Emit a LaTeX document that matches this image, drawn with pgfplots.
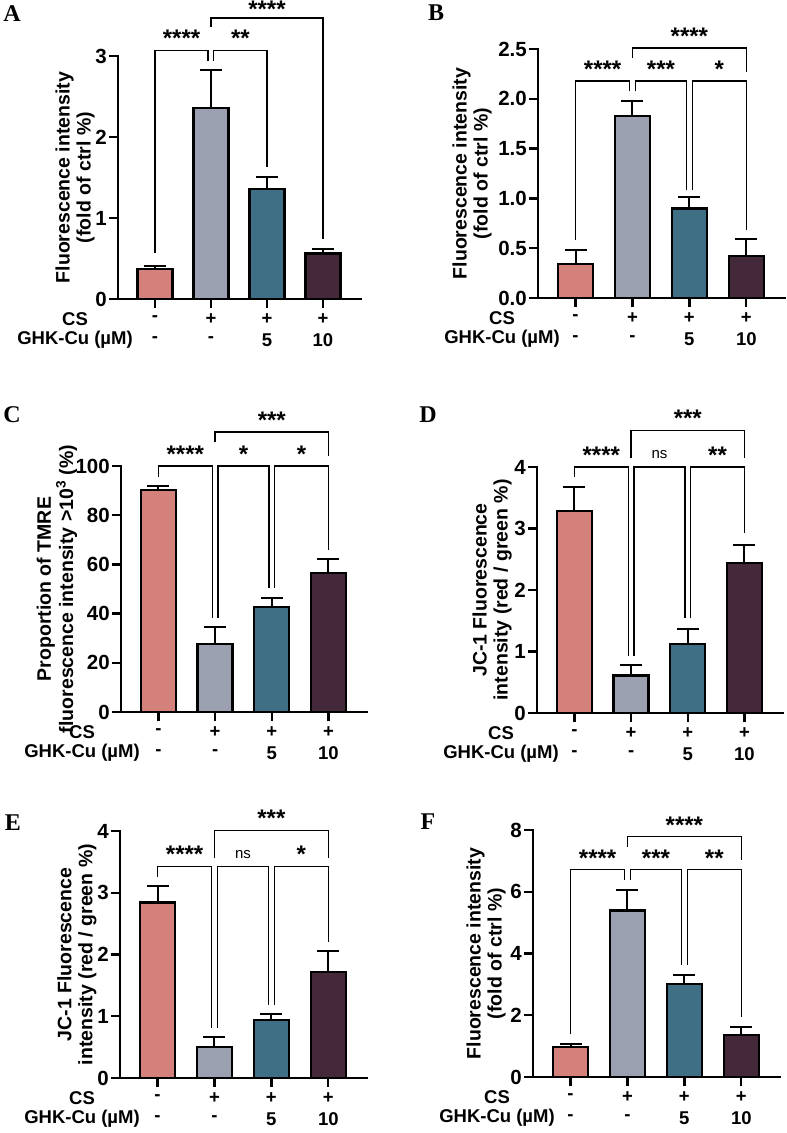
\documentclass[border=0pt]{standalone}
\usepackage{pgfplots}
\pgfplotsset{compat=1.18}
\usepackage{fontspec}
\setmainfont{Liberation Sans}
\newfontfamily\serifbf{Liberation Serif}
\definecolor{cA}{RGB}{212,128,123}
\definecolor{cB}{RGB}{154,160,176}
\definecolor{cC}{RGB}{63,111,133}
\definecolor{cD}{RGB}{67,41,58}
\pgfplotsset{
  gp/.style={
    scale only axis, clip=false,
    axis x line*=bottom, axis y line*=left,
    axis line style={-, line width=2.3pt, line cap=rect},
    ybar, bar width=35pt,
    xmin=-0.66, xmax=3.68, ymin=0,
    xtick={0,1,2,3}, xticklabels={},
    tick align=outside, major tick length=9pt,
    tick style={line width=2.3pt, black},
    minor tick num=0, scaled y ticks=false,
    /pgf/number format/assume math mode=true,
    yticklabel style={font=\bfseries\fontsize{20.5}{22}\selectfont, inner sep=2pt},
    anchor=south west,
  },
  gbar/.style={bar shift=0pt, fill=#1, draw=black, line width=2.3pt,
    error bars/.cd, y dir=plus, y explicit,
    error bar style={line width=2pt, black},
    error mark options={rotate=90, black, line width=2pt, mark size=11pt}},
}
\tikzset{
  rl/.style={font=\bfseries\fontsize{18.5}{20}\selectfont, inner sep=0pt, anchor=center},
  yl/.style={font=\bfseries\fontsize{19.5}{21}\selectfont, rotate=90, align=center, inner sep=0pt},
  bk/.style={line width=1.3pt, black},
  st/.style={font=\bfseries\fontsize{24}{24}\selectfont, inner sep=0pt},
  ns/.style={font=\fontsize{15}{15}\selectfont, inner sep=0pt},
  lt/.style={font=\serifbf\bfseries\fontsize{24}{24}\selectfont, inner sep=0pt},
}
% bracket: x1 y1 x2 y2 yh xtext text style
\newcommand{\br}[8]{%
  \draw[bk] (axis cs:#1,#2) -- (axis cs:#1,#5) -- (axis cs:#3,#5) -- (axis cs:#3,#4);
  \node[#8] at ([yshift=12pt]axis cs:#6,#5) {#7};}
\newcommand{\rows}[1]{%
  \node[rl] at ([yshift=-20pt]axis cs:0,0) {-};
  \node[rl] at ([yshift=-20pt]axis cs:1,0) {+};
  \node[rl] at ([yshift=-20pt]axis cs:2,0) {+};
  \node[rl] at ([yshift=-20pt]axis cs:3,0) {+};
  \node[rl] at ([yshift=-41pt]axis cs:0,0) {-};
  \node[rl] at ([yshift=-41pt]axis cs:1,0) {-};
  \node[rl] at ([yshift=-41pt]axis cs:2,0) {5};
  \node[rl] at ([yshift=-41pt]axis cs:3,0) {10};
  \node[rl] at ([xshift=#1, yshift=-20pt]rel axis cs:0,0) {CS};
  \node[rl] at ([xshift=#1, yshift=-41pt]rel axis cs:0,0) {GHK-Cu (µM)};}
\begin{document}
\begin{tikzpicture}
\useasboundingbox (0,0) rectangle (787pt,-1133pt);
% ---------------- A
\begin{axis}[gp, at={(118pt,-299pt)}, width=243pt, height=243pt, ymax=3, ytick={0,1,2,3}]
\addplot[gbar=cA] coordinates {(0,0.37) +- (0,0.04)};
\addplot[gbar=cB] coordinates {(1,2.36) +- (0,0.47)};
\addplot[gbar=cC] coordinates {(2,1.36) +- (0,0.15)};
\addplot[gbar=cD] coordinates {(3,0.56) +- (0,0.06)};
\br{0}{0.57}{0.95}{2.94}{3.07}{0.475}{****}{st}
\br{1.05}{2.94}{2}{1.63}{3.07}{1.525}{**}{st}
\draw[bk] (axis cs:1,3.36) -- (axis cs:1,3.47) -- (axis cs:3,3.47) -- (axis cs:3,0.74);
\node[st] at ([yshift=8.5pt]axis cs:2,3.47) {****};
\node[yl] at ([xshift=-43pt]rel axis cs:0,0.5) {Fluorescence intensity\\(fold of ctrl \%)};
\rows{-43pt}
\end{axis}
% ---------------- B
\begin{axis}[gp, at={(538pt,-298pt)}, width=247pt, height=249pt, ymax=2.5, ytick={0,0.5,1,1.5,2,2.5},
  yticklabel style={/pgf/number format/fixed, /pgf/number format/fixed zerofill, /pgf/number format/precision=1}]
\addplot[gbar=cA] coordinates {(0,0.34) +- (0,0.14)};
\addplot[gbar=cB] coordinates {(1,1.83) +- (0,0.15)};
\addplot[gbar=cC] coordinates {(2,0.90) +- (0,0.11)};
\addplot[gbar=cD] coordinates {(3,0.42) +- (0,0.17)};
\br{0}{0.58}{0.95}{2.08}{2.18}{0.475}{****}{st}
\br{1.05}{2.08}{1.95}{1.08}{2.18}{1.5}{***}{st}
\br{2.05}{1.08}{3}{0.68}{2.18}{2.525}{*}{st}
\br{1}{2.41}{3}{2.27}{2.51}{2}{****}{st}
\node[yl] at ([xshift=-66pt]rel axis cs:0,0.5) {Fluorescence intensity\\(fold of ctrl \%)};
\rows{-36pt}
\end{axis}
% ---------------- C
\begin{axis}[gp, at={(121pt,-712pt)}, width=246pt, height=246pt, ymax=100, ytick={0,20,40,60,80,100}]
\addplot[gbar=cA] coordinates {(0,90.2) +- (0,1.7)};
\addplot[gbar=cB] coordinates {(1,27.6) +- (0,6.8)};
\addplot[gbar=cC] coordinates {(2,42.6) +- (0,3.6)};
\addplot[gbar=cD] coordinates {(3,56.6) +- (0,5.6)};
\br{0}{95.5}{0.95}{38.2}{100}{0.475}{****}{st}
\br{1.05}{38.2}{1.95}{50.4}{100}{1.5}{*}{st}
\br{2.05}{50.4}{3}{65.9}{100}{2.525}{*}{st}
\br{1}{109.8}{3}{104.1}{113.8}{2}{***}{st}
\node[yl] at ([xshift=-64pt]rel axis cs:0,0.5) {Proportion of TMRE\\fluorescence intensity >10\textsuperscript{3} (\%)};
\rows{-39pt}
\end{axis}
% ---------------- D
\begin{axis}[gp, at={(537pt,-713pt)}, width=246pt, height=246pt, ymax=4, ytick={0,1,2,3,4}]
\addplot[gbar=cA] coordinates {(0,3.28) +- (0,0.40)};
\addplot[gbar=cB] coordinates {(1,0.61) +- (0,0.17)};
\addplot[gbar=cC] coordinates {(2,1.12) +- (0,0.25)};
\addplot[gbar=cD] coordinates {(3,2.44) +- (0,0.30)};
\br{0}{3.84}{0.95}{0.93}{4.0}{0.475}{****}{st}
\br{1.05}{0.93}{1.95}{1.54}{4.0}{1.5}{ns}{ns}
\br{2.05}{1.54}{3}{2.93}{4.0}{2.525}{**}{st}
\br{1}{4.15}{3}{4.15}{4.59}{2}{***}{st}
\node[yl] at ([xshift=-45pt]rel axis cs:0,0.5) {JC-1 Fluorescence\\intensity (red / green \%)};
\rows{-36pt}
\end{axis}
% ---------------- E
\begin{axis}[gp, at={(120pt,-1078pt)}, width=247pt, height=247pt, ymax=4, ytick={0,1,2,3,4}]
\addplot[gbar=cA] coordinates {(0,2.84) +- (0,0.27)};
\addplot[gbar=cB] coordinates {(1,0.50) +- (0,0.16)};
\addplot[gbar=cC] coordinates {(2,0.94) +- (0,0.09)};
\addplot[gbar=cD] coordinates {(3,1.72) +- (0,0.34)};
\br{0}{3.26}{0.95}{0.81}{3.43}{0.475}{****}{st}
\br{1.05}{0.81}{1.95}{1.18}{3.43}{1.5}{ns}{ns}
\br{2.05}{1.18}{3}{2.21}{3.43}{2.525}{*}{st}
\br{1}{3.56}{3}{3.56}{4.01}{2}{***}{st}
\node[yl] at ([xshift=-43pt]rel axis cs:0,0.5) {JC-1 Fluorescence\\intensity (red / green \%)};
\rows{-38pt}
\end{axis}
% ---------------- F
\begin{axis}[gp, at={(533pt,-1077pt)}, width=247pt, height=247pt, ymax=8, ytick={0,2,4,6,8}]
\addplot[gbar=cA] coordinates {(0,0.97) +- (0,0.11)};
\addplot[gbar=cB] coordinates {(1,5.39) +- (0,0.67)};
\addplot[gbar=cC] coordinates {(2,3.02) +- (0,0.29)};
\addplot[gbar=cD] coordinates {(3,1.37) +- (0,0.25)};
\br{0}{1.40}{0.95}{6.39}{6.71}{0.475}{****}{st}
\br{1.05}{6.39}{1.95}{3.63}{6.71}{1.5}{***}{st}
\br{2.05}{3.63}{3}{1.95}{6.71}{2.525}{**}{st}
\br{1}{7.46}{3}{7.04}{7.78}{2}{****}{st}
\node[yl] at ([xshift=-47pt]rel axis cs:0,0.5) {Fluorescence intensity\\(fold of ctrl \%)};
\rows{-36pt}
\end{axis}
% panel letters
\node[lt] at (12pt,-14pt) {A};
\node[lt] at (436pt,-13pt) {B};
\node[lt] at (12pt,-415pt) {C};
\node[lt] at (428pt,-415pt) {D};
\node[lt] at (13pt,-823pt) {E};
\node[lt] at (428pt,-822pt) {F};
\end{tikzpicture}
\end{document}
